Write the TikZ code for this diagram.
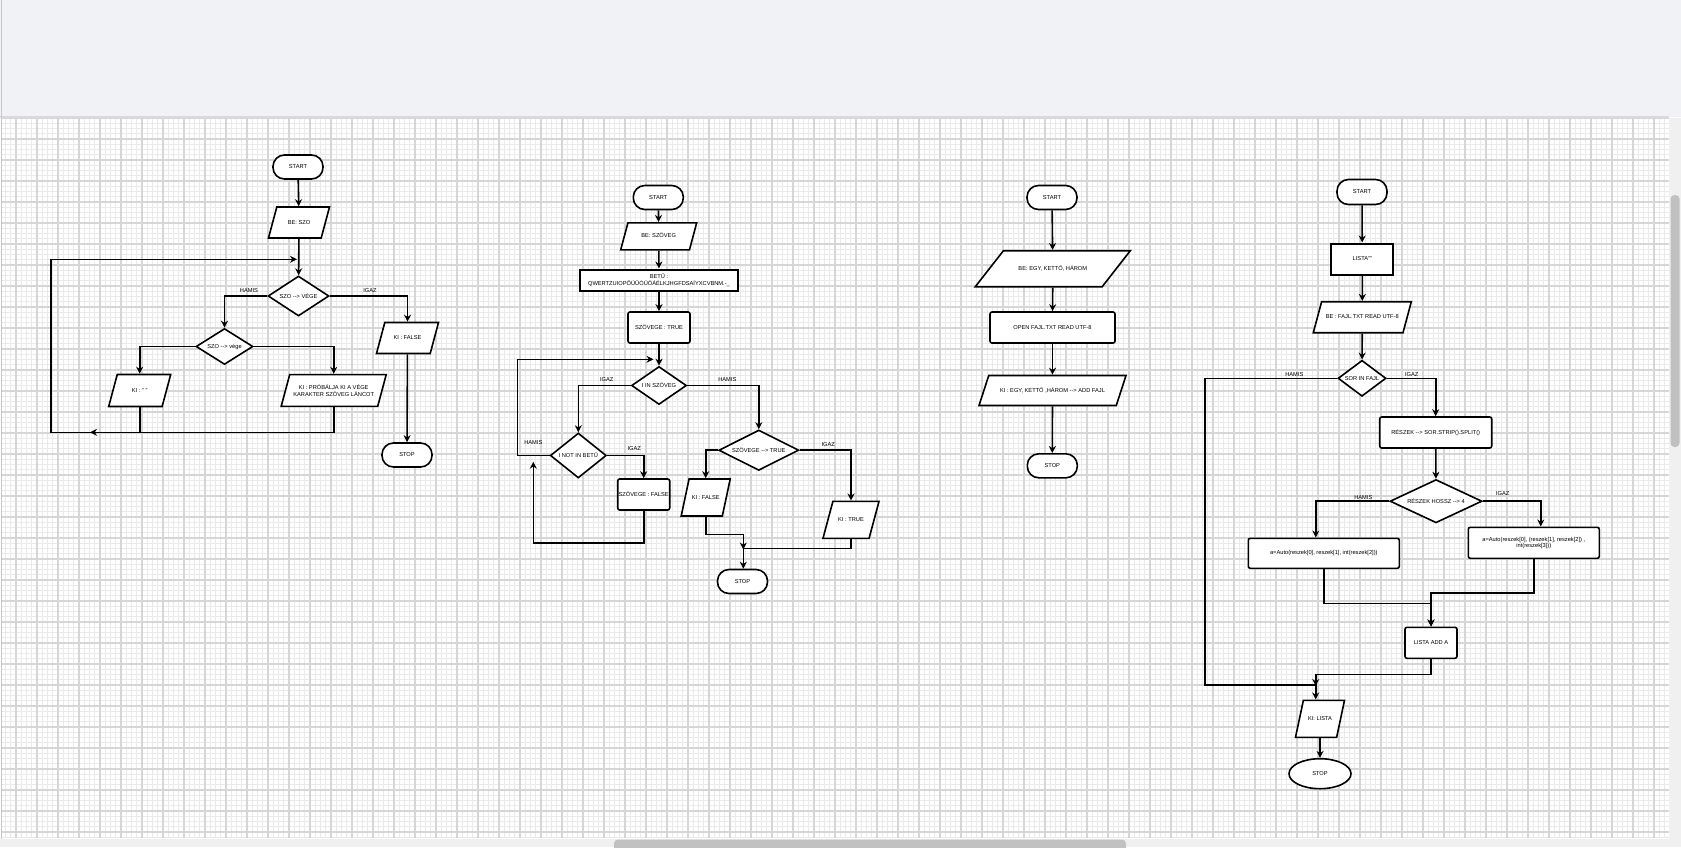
\documentclass[tikz,border=0pt]{standalone}
\usepackage{fontspec}
\setmainfont{Liberation Sans}
\usetikzlibrary{shapes.geometric,arrows.meta}
\definecolor{barbg}{HTML}{F1F2F6}
\definecolor{barline}{HTML}{DADADA}
\definecolor{gridmaj}{HTML}{D6D6D6}
\definecolor{gridmin}{HTML}{EAEAEA}
\definecolor{scrollbg}{HTML}{F0F0F0}
\definecolor{scrollthumb}{HTML}{C1C1C1}
\newcommand{\flowfont}{\fontsize{5.7}{6.5}\selectfont}
\newcommand{\darr}{-{}->}

\begin{document}
\begin{tikzpicture}[x=1pt,y=-1pt,
    term/.style={rectangle, draw, line width=1.6pt, fill=white, rounded corners=11.5pt, minimum width=50pt, minimum height=24pt, inner sep=0pt, font=\flowfont},
    io/.style 2 args={trapezium, draw, line width=1.6pt, fill=white, trapezium left angle=75, trapezium right angle=105, trapezium stretches body=true, text height=4.2pt, text depth=1.2pt, inner xsep=0pt, inner ysep={(#2-5.4)/2*1pt}, minimum width=#1, align=center, font=\flowfont},
    proc/.style={rectangle, draw, line width=1.6pt, fill=white, rounded corners=2pt, inner sep=0pt, align=center, font=\flowfont},
    thickproc/.style={rectangle, draw, line width=2pt, fill=white, inner sep=0pt, align=center, font=\flowfont},
    dec/.style={diamond, draw, line width=1.6pt, fill=white, aspect=1.5, inner sep=0pt, font=\flowfont},
    lbl/.style={inner sep=0pt, font=\flowfont},
    arr/.style={line width=1.6pt, -{Stealth[length=7pt,width=7pt]}}]
    \useasboundingbox (0,0) rectangle (1681,847);

    % Editor background
    \fill[barbg] (0,0) rectangle (1681,117);
    \fill[white] (2,117.5) rectangle (1669,838.5);
    \begin{scope}
        \clip (2,118) rectangle (1669,838);
        \foreach \k in {0,...,317}
            \draw[gridmin, line width=1pt] ({5.5+5.25*\k},118) -- ++(0,720);
        \foreach \k in {0,...,137}
            \draw[gridmin, line width=1pt] (2,{118+5.25*\k}) -- ++(1667,0);
        \foreach \k in {0,...,79}
            \draw[gridmaj, line width=1.1pt] ({16+21*\k},118) -- ++(0,720);
        \foreach \k in {0,...,34}
            \draw[gridmaj, line width=1.1pt] (2,{118+21*\k}) -- ++(1667,0);
    \end{scope}
    \draw[barline, line width=1.2pt] (0,117) -- (1669,117);
    \draw[gray!45, line width=1pt] (1.5,0) -- (1.5,847);
    \fill[scrollbg] (1669,117.6) rectangle (1681,847);
    \fill[scrollthumb, rounded corners=4pt] (1670.5,195) rectangle (1679.5,447);
    \fill[scrollbg] (0,838.5) rectangle (1669,847);
    \begin{scope}
        \clip (0,838.5) rectangle (1669,847);
        \fill[scrollthumb, rounded corners=4pt] (614,839.5) rectangle (1126,856);
    \end{scope}

    % Flow 1: szo vege
    \node[term] (startA) at (298,167) {START};
    \node[io={61pt}{31}] (inA) at (299,222.5) {BE: SZO};
    \node[dec, minimum width=61pt, minimum height=40pt] (ifA) at (298.5,296) {SZO \darr{} VÉGE};
    \node[dec, minimum width=57pt, minimum height=36pt] (ifB) at (224.5,346.5) {SZO \darr{} vége};
    \node[io={62pt}{32}] (outEmptyA) at (139.7,390.5) {KI : " "};
    \node[io={105pt}{25.6}, text height=, text depth=] (outTryA) at (333.7,390.5) {KI : PRÓBÁLJA KI A VÉGE\\KARAKTER SZÖVEG LÁNCOT};
    \node[io={62pt}{31}] (outFalseA) at (407.5,338) {KI : FALSE};
    \node[term] (stopA) at (407,455) {STOP};
    \node[lbl] (hamisA) at (249,290.5) {HAMIS};
    \node[lbl] (igazA) at (370,290.5) {IGAZ};

    \coordinate (loopA1) at (50.7,432.3);
    \coordinate (loopA2) at (50.7,259.3);
    \coordinate (loopA3) at (297,259.3);
    \coordinate (joinA) at (90,432.3);
    \draw[arr] (startA) -- (inA);
    \draw[arr] (inA) -- (ifA);
    \draw[arr] (ifA.west) -| (ifB.north);
    \draw[arr] (ifA.east) -| (outFalseA.north);
    \draw[arr] (outFalseA) -- (stopA);
    \draw[arr] (ifB.west) -| (outEmptyA.north);
    \draw[arr] (ifB.east) -| (outTryA.north);
    \draw[arr] (outTryA.south) |- (loopA1) -- (loopA2) -- (loopA3);
    \draw[arr] (outEmptyA.south) |- (joinA);

    % Flow 2: betuk a szovegben
    \node[term] (startB) at (658.3,197.5) {START};
    \node[io={76pt}{27}] (inB) at (658.7,236.3) {BE: SZÖVEG};
    \node[thickproc, minimum width=158pt, minimum height=21pt] (betuB) at (659,280) {BETŰ :\\QWERTZUIOPŐÚŰÓÜÖÁÉLKJHGFDSAÍYXCVBNM.-\_};
    \node[proc, minimum width=62pt, minimum height=31pt] (trueB) at (659,327.5) {SZÖVEGE : TRUE};
    \node[dec, minimum width=55pt, minimum height=38pt] (ifInB) at (659,385.5) {I IN SZÖVEG};
    \node[dec, minimum width=56pt, minimum height=45pt] (ifNotB) at (578.3,455.5) {I NOT IN BETŰ};
    \node[proc, minimum width=52pt, minimum height=31pt] (falseB) at (643.7,494.5) {SZÖVEGE : FALSE};
    \node[dec, minimum width=80pt, minimum height=36pt] (ifTrueB) at (758.8,450.2) {SZÖVEGE \darr{} TRUE};
    \node[io={49pt}{37}, trapezium left angle=78, trapezium right angle=102] (outFalseB) at (705.7,497.5) {KI : FALSE};
    \node[io={56pt}{37}] (outTrueB) at (851,519.8) {KI : TRUE};
    \node[term] (stopB) at (742.5,581.5) {STOP};
    \node[lbl] (igazB1) at (606.7,379.3) {IGAZ};
    \node[lbl] (hamisB1) at (727.3,379.3) {HAMIS};
    \node[lbl] (hamisB2) at (533.3,442.7) {HAMIS};
    \node[lbl] (igazB2) at (634.3,449) {IGAZ};
    \node[lbl] (igazB3) at (828.3,444.7) {IGAZ};

    \coordinate (loopB1) at (517.3,359.3);
    \coordinate (loopB2) at (653.5,359.3);
    \coordinate (backB1) at (533.3,542.7);
    \coordinate (backB2) at (533.3,461.7);
    \coordinate (joinB1) at (743.3,534.3);
    \coordinate (joinB2) at (743.3,549.5);
    \coordinate (joinB3) at (743.3,548.3);
    \draw[arr] (startB) -- (inB);
    \draw[arr] (inB) -- (betuB);
    \draw[arr] (betuB) -- (trueB);
    \draw[arr] (trueB) -- (ifInB);
    \draw[arr] (ifInB.west) -| (ifNotB.north);
    \draw[arr] (ifInB.east) -| (ifTrueB.north);
    \draw[arr] (ifNotB.west) -| (loopB1) -- (loopB2);
    \draw[arr] (ifNotB.east) -| (falseB.north);
    \draw[arr] (falseB.south) |- (backB1) -- (backB2);
    \draw[arr] (ifTrueB.west) -| (outFalseB.north);
    \draw[arr] (ifTrueB.east) -| (outTrueB.north);
    \draw[arr] (outFalseB.south) |- (joinB1) -- (joinB2);
    \draw[arr] (outTrueB.south) |- (joinB3) -- (joinB3 |- stopB.north);

    % Flow 3: fajlba iras
    \node[term] (startC) at (1052,197.5) {START};
    \node[io={155pt}{36}, trapezium left angle=52, trapezium right angle=128] (inC) at (1052.8,268.7) {BE: EGY, KETTŐ, HÁROM};
    \node[proc, minimum width=125pt, minimum height=31pt] (openC) at (1052.5,327.5) {OPEN FAJL.TXT READ UTF-8};
    \node[io={147pt}{30}, trapezium left angle=72, trapezium right angle=108] (outC) at (1052.5,390.5) {KI : EGY, KETTŐ ,HÁROM \darr{} ADD FAJL};
    \node[term] (stopC) at (1052.3,465.8) {STOP};

    \draw[arr] (startC) -- (inC);
    \draw[arr] (inC) -- (openC);
    \draw[arr] (openC) -- (outC);
    \draw[arr] (outC) -- (stopC);

    % Flow 4: lista beolvasasa
    \node[term, minimum height=25pt] (startD) at (1362,192) {START};
    \node[thickproc, minimum width=62pt, minimum height=31pt] (listD) at (1362.3,259) {LISTA""};
    \node[io={98pt}{31}] (inD) at (1362.3,317.2) {BE : FAJL.TXT READ UTF-8};
    \node[dec, minimum width=48pt, minimum height=36pt] (forD) at (1362,378.3) {SOR IN FAJL};
    \node[proc, minimum width=112pt, minimum height=31pt] (splitD) at (1435.7,432.5) {RÉSZEK \darr{} SOR.STRIP().SPLIT()};
    \node[dec, minimum width=92pt, minimum height=40pt] (lenD) at (1436,501.2) {RÉSZEK HOSSZ \darr{} 4};
    \node[proc, minimum width=151pt, minimum height=30pt] (autoAD) at (1323.8,553.3) {a=Auto(reszek[0], reszek[1], int(reszek[2]))};
    \node[proc, minimum width=131pt, minimum height=31pt] (autoBD) at (1533.8,542.8) {a=Auto(reszek[0], (reszek[1], reszek[2]) ,\\int(reszek[3]))};
    \node[proc, minimum width=52pt, minimum height=31pt] (addD) at (1431,642.8) {LISTA ADD A};
    \node[io={49pt}{37}, trapezium left angle=78, trapezium right angle=102] (outD) at (1320,718.8) {KI: LISTA};
    \node[ellipse, draw, line width=1.6pt, fill=white, minimum width=62pt, minimum height=30pt, inner sep=0pt, font=\flowfont] (stopD) at (1320,773.7) {STOP};
    \node[lbl] (hamisD1) at (1294.3,375) {HAMIS};
    \node[lbl] (igazD1) at (1411.7,375) {IGAZ};
    \node[lbl] (hamisD2) at (1363.3,497.7) {HAMIS};
    \node[lbl] (igazD2) at (1502.7,493.3) {IGAZ};

    \coordinate (joinD1) at (1431,603.3);
    \coordinate (joinD2) at (1431,592.7);
    \coordinate (joinD3) at (1315.7,674.3);
    \coordinate (joinD4) at (1315.7,686);
    \coordinate (loopD1) at (1205,685);
    \draw[arr] (startD) -- (listD);
    \draw[arr] (listD) -- (inD);
    \draw[arr] (inD) -- (forD);
    \draw[arr] (forD.east) -| (splitD.north);
    \draw[arr] (splitD) -- (lenD);
    \draw[arr] (lenD.west) -| ([xshift=-8pt]autoAD.north);
    \draw[arr] (lenD.east) -| ([xshift=7pt]autoBD.north);
    \draw[arr] (autoAD.south) |- (joinD1) -- (addD.north);
    \draw[arr] (autoBD.south) |- (joinD2) -- (addD.north);
    \draw[arr] (addD.south) |- (joinD3) -- (joinD4);
    \draw[arr] (forD.west) -- (forD.west -| loopD1) -- (loopD1) -| (joinD3 |- outD.north);
    \draw[arr] (outD) -- (stopD);
\end{tikzpicture}
\end{document}
